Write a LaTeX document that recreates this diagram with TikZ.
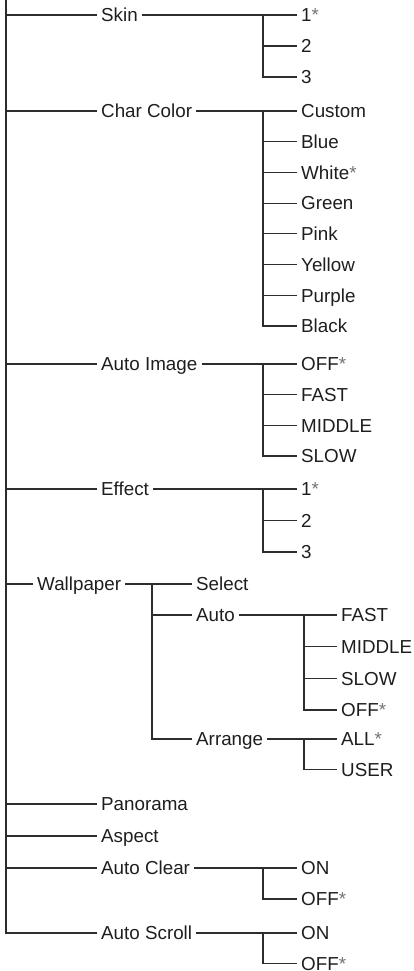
\documentclass[tikz,border=0pt]{standalone}
\usepackage{fontspec}
\setmainfont{Liberation Sans}
\usetikzlibrary{positioning}
\definecolor{menuink}{RGB}{30,30,30}
\definecolor{menuline}{RGB}{45,45,45}
\newcommand{\dflt}{\textcolor{black!55}{*}}

\begin{document}
\begin{tikzpicture}[x=1pt,y=-1pt,line cap=butt,
 item/.style={anchor=west,inner xsep=4pt,inner ysep=0pt,text height=13.5pt,
  text depth=0pt,font=\fontsize{18.8}{22}\selectfont,text=menuink},
 wire/.style={menuline,line width=1.1pt}]
 \useasboundingbox (0,0) rectangle (413,971);
 \coordinate (top) at (6,0);
 \node[item] (skin) at (97,15) {Skin};
 \node[item] (charcolor) at (97,111) {Char Color};
 \node[item] (autoimage) at (97,364) {Auto Image};
 \node[item] (effect) at (97,489) {Effect~};
 \node[item] (wallpaper) at (33,584) {Wallpaper~};
 \node[item] (panorama) at (97,804) {Panorama};
 \node[item] (aspect) at (97,836) {Aspect};
 \node[item] (autoclear) at (97,868) {Auto Clear~};
 \node[item] (autoscroll) at (97,933) {Auto Scroll};
 \foreach \p in {skin,charcolor,autoimage,effect,wallpaper,panorama,aspect,
  autoclear,autoscroll}
  \draw[wire] (top) |- (\p.west);

 \foreach \n/\t/\y in {sk1/1\dflt/15,sk2/2/46,sk3/3/77}
  \node[item] (\n) at (297,\y) {\t};
 \coordinate (skinfork) at (263,15);
 \draw[wire] (skin.east) -- (sk1.west);
 \foreach \n in {sk2,sk3}
  \draw[wire] (skinfork) |- (\n.west);

 \foreach \n/\t [count=\i from 0] in {cc1/Custom,cc2/Blue,cc3/White\dflt,
  cc4/Green,cc5/Pink,cc6/Yellow,cc7/Purple,cc8/Black}
  \node[item] (\n) at (297,111+30.71*\i) {\t};
 \coordinate (charfork) at (263,111);
 \draw[wire] (charcolor.east) -- (cc1.west);
 \foreach \n in {cc2,cc3,cc4,cc5,cc6,cc7,cc8}
  \draw[wire] (charfork) |- (\n.west);

 \foreach \n/\t [count=\i from 0] in {ai1/OFF\dflt,ai2/FAST,ai3/MIDDLE,ai4/SLOW}
  \node[item] (\n) at (297,364+30.67*\i) {\t};
 \coordinate (imagefork) at (263,364);
 \draw[wire] (autoimage.east) -- (ai1.west);
 \foreach \n in {ai2,ai3,ai4}
  \draw[wire] (imagefork) |- (\n.west);

 \foreach \n/\t/\y in {ef1/1\dflt/489,ef2/2/520.5,ef3/3/552}
  \node[item] (\n) at (297,\y) {\t};
 \coordinate (effectfork) at (263,489);
 \draw[wire] (effect.east) -- (ef1.west);
 \foreach \n in {ef2,ef3}
  \draw[wire] (effectfork) |- (\n.west);

 \node[item] (select) at (192,584) {Select};
 \node[item] (wpauto) at (192,615) {Auto};
 \node[item] (arrange) at (192,739) {Arrange~};
 \coordinate (wallfork) at (152,584);
 \draw[wire] (wallpaper.east) -- (select.west);
 \foreach \n in {wpauto,arrange}
  \draw[wire] (wallfork) |- (\n.west);

 \foreach \n/\t [count=\i from 0] in {wa1/FAST,wa2/MIDDLE,wa3/SLOW,wa4/OFF\dflt}
  \node[item] (\n) at (337,615+31.67*\i) {\t};
 \coordinate (autofork) at (304,615);
 \draw[wire] (wpauto.east) -- (wa1.west);
 \foreach \n in {wa2,wa3,wa4}
  \draw[wire] (autofork) |- (\n.west);

 \node[item] (arall) at (337,739) {ALL\dflt};
 \node[item] (aruser) at (337,769.5) {USER};
 \coordinate (arrangefork) at (304,739);
 \draw[wire] (arrange.east) -- (arall.west);
 \draw[wire] (arrangefork) |- (aruser.west);

 \node[item] (acon) at (297,868) {ON};
 \node[item] (acoff) at (297,899) {OFF\dflt};
 \coordinate (clearfork) at (263,868);
 \draw[wire] (autoclear.east) -- (acon.west);
 \draw[wire] (clearfork) |- (acoff.west);

 \node[item] (ason) at (297,933) {ON};
 \node[item] (asoff) at (297,963.5) {OFF\dflt};
 \coordinate (scrollfork) at (263,933);
 \draw[wire] (autoscroll.east) -- (ason.west);
 \draw[wire] (scrollfork) |- (asoff.west);
\end{tikzpicture}
\end{document}
